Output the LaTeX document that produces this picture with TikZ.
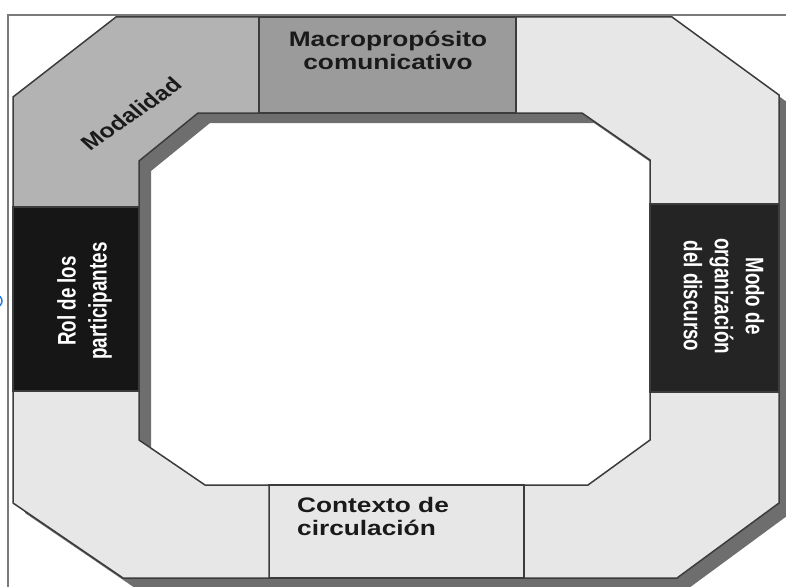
\documentclass[tikz,border=0pt]{standalone}
\usepackage{fontspec}
\setmainfont{Liberation Sans}
\usepackage{graphicx}
\definecolor{modalcol}{HTML}{B3B3B3}
\definecolor{macrocol}{HTML}{9B9B9B}
\definecolor{lightcol}{HTML}{E7E7E7}
\definecolor{blackL}{HTML}{161616}
\definecolor{blackR}{HTML}{242424}
\definecolor{shadowcol}{HTML}{6E6E6E}
\definecolor{edgecol}{HTML}{3C3C3C}
\definecolor{framecol}{HTML}{7A7A7A}
\definecolor{bluecol}{HTML}{2B7BD6}
\definecolor{inkcol}{HTML}{1A1A1A}
\begin{document}
\begin{tikzpicture}[x=1pt,y=-1pt,
  piece/.style={draw=edgecol, line width=1.5pt, line join=miter},
  lbl/.style={inner sep=0pt, font=\bfseries\fontsize{21}{23}\selectfont, text=inkcol},
  vlbl/.style={inner sep=0pt, font=\bfseries\fontsize{18.8}{23}\selectfont, text=white}]
\useasboundingbox (0,0) rectangle (786,586);
% outer frame lines
\draw[framecol, line width=1.2pt] (8,590) -- (8,15) -- (790,15);
\draw[bluecol, line width=1.5pt] (-4,301) circle (6);
% shadow of the ring
\fill[shadowcol, even odd rule, shift={(12,10)}]
  (116,17) -- (672,17) -- (779,95) -- (779,503) -- (677,578) -- (123,578) -- (13,503) -- (13,97) -- cycle
  (198,113) -- (582,113) -- (650,160) -- (650,440) -- (588,485) -- (205,485) -- (139,440) -- (139,161) -- cycle;
% pieces
\path[piece, fill=modalcol] (116,17) -- (259,17) -- (259,113) -- (198,113) -- (139,161) -- (139,207) -- (13,207) -- (13,97) -- cycle;
\path[piece, fill=macrocol] (259,17) rectangle (516,113);
\path[piece, fill=lightcol] (516,17) -- (672,17) -- (779,95) -- (779,204) -- (650,204) -- (650,160) -- (582,113) -- (516,113) -- cycle;
\path[piece, fill=blackR] (650,204) rectangle (779,392);
\path[piece, fill=lightcol] (650,392) -- (779,392) -- (779,503) -- (677,578) -- (524,578) -- (524,485) -- (588,485) -- (650,440) -- cycle;
\path[piece, fill=lightcol] (269,485) rectangle (524,578);
\path[piece, fill=lightcol] (13,391) -- (139,391) -- (139,440) -- (205,485) -- (269,485) -- (269,578) -- (123,578) -- (13,503) -- cycle;
\path[piece, fill=blackL] (13,207) rectangle (139,391);
% labels
\node[lbl, anchor=base] (macro) at (388,47) {\scalebox{1.25}[1]{\begin{tabular}[t]{@{}c@{}}Macropropósito\\comunicativo\end{tabular}}};
\node[lbl, anchor=base west] (ctx) at (297,512) {\scalebox{1.25}[1]{\begin{tabular}[t]{@{}l@{}}Contexto de\\circulación\end{tabular}}};
\node[inner sep=0pt, font=\bfseries\fontsize{20}{22}\selectfont, text=inkcol] (modal) at (131,114) {\scalebox{1.25}[1]{\rotatebox{41}{Modalidad}}};
\node[vlbl] (rol) at (85,301) {\scalebox{1.35}[1]{\rotatebox{90}{\begin{tabular}{@{}c@{}}Rol de los\\participantes\end{tabular}}}};
\node[vlbl] (modo) at (721,296) {\scalebox{1.35}[1]{\rotatebox{-90}{\begin{tabular}{@{}c@{}}Modo de\\organización\\del discurso\end{tabular}}}};
\end{tikzpicture}
\end{document}
